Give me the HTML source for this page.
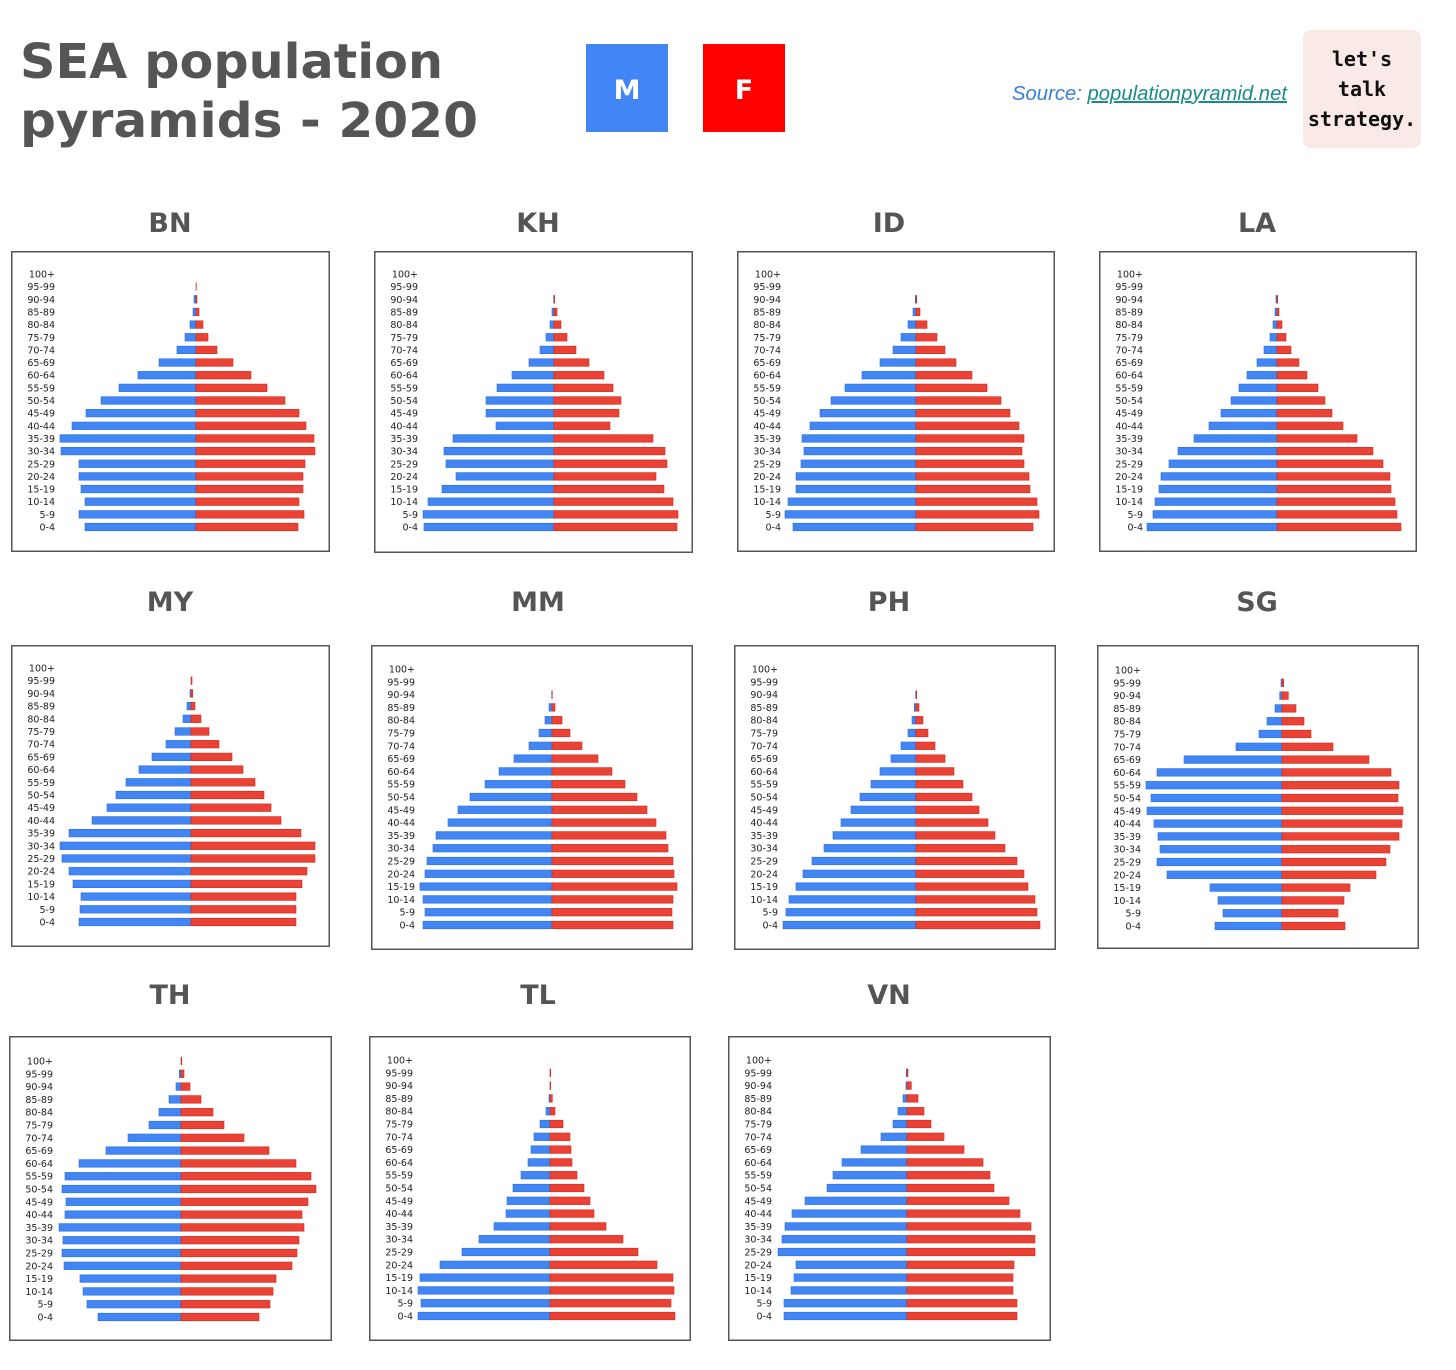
<!DOCTYPE html>
<html><head><meta charset="utf-8">
<style>
html,body{margin:0;padding:0;background:#fff;}
svg{display:block;}
</style></head>
<body>
<svg id="chart" width="1456" height="1370" viewBox="0 0 1456 1370" xmlns="http://www.w3.org/2000/svg">
  <g>
    <text x="20" y="78" font-family="DejaVu Sans, sans-serif" font-weight="bold" font-size="48" fill="#555" textLength="423" lengthAdjust="spacingAndGlyphs">SEA population</text>
    <text x="20" y="137" font-family="DejaVu Sans, sans-serif" font-weight="bold" font-size="48" fill="#555" textLength="458" lengthAdjust="spacingAndGlyphs">pyramids - 2020</text>
    <g>
      <rect x="586" y="44" width="82" height="88" fill="#4285f4"/>
      <text x="627" y="99" text-anchor="middle" font-family="DejaVu Sans, sans-serif" font-weight="bold" font-size="27" fill="#fff">M</text>
    </g>
    <g>
      <rect x="703" y="44" width="82" height="88" fill="#ff0000"/>
      <text x="744" y="99" text-anchor="middle" font-family="DejaVu Sans, sans-serif" font-weight="bold" font-size="27" fill="#fff">F</text>
    </g>
    <text x="1012" y="100" font-family="Liberation Sans, sans-serif" font-style="italic" font-size="20" fill="#3b7ddd" textLength="275" lengthAdjust="spacingAndGlyphs">Source: <tspan fill="#1a8a8a" text-decoration="underline">populationpyramid.net</tspan></text>
    <g>
      <rect x="1303" y="30" width="118" height="118" rx="8" fill="#f9e9e7"/>
      <text x="1362" y="66" text-anchor="middle" font-family="DejaVu Sans Mono, monospace" font-weight="bold" font-size="20" fill="#111">let's</text>
      <text x="1362" y="96" text-anchor="middle" font-family="DejaVu Sans Mono, monospace" font-weight="bold" font-size="20" fill="#111">talk</text>
      <text x="1362" y="126" text-anchor="middle" font-family="DejaVu Sans Mono, monospace" font-weight="bold" font-size="20" fill="#111">strategy.</text>
    </g>
  </g>
  <g id="panels"></g>
</svg>
<script>
// Age groups, top to bottom
const ageGroups = ["100+","95-99","90-94","85-89","80-84","75-79","70-74","65-69","60-64","55-59","50-54","45-49","40-44","35-39","30-34","25-29","20-24","15-19","10-14","5-9","0-4"];
const countries = ["BN","KH","ID","LA","MY","MM","PH","SG","TH","TL","VN"];
// Population share (%-like units), males and females, top (100+) to bottom (0-4)
const BN_M = [0,0,0.2,0.3,0.6,1.1,1.9,3.7,5.8,7.7,9.5,11,12.4,13.6,13.5,11.7,11.7,11.5,11.1,11.7,11.1];
const BN_F = [0,0.03,0.1,0.3,0.7,1.2,2.1,3.7,5.5,7.1,8.9,10.3,11,11.8,11.9,10.9,10.7,10.7,10.3,10.8,10.2];
const KH_M = [0,0,0.03,0.2,0.4,0.8,1.4,2.5,4.2,5.7,6.8,6.8,5.8,10.1,11,10.8,9.8,11.2,12.6,13.1,13];
const KH_F = [0,0,0.07,0.3,0.7,1.3,2.2,3.5,5,5.9,6.7,6.5,5.6,9.9,11.1,11.3,10.2,11,11.9,12.4,12.3];
const ID_M = [0,0,0.07,0.3,0.8,1.5,2.3,3.6,5.4,7.1,8.5,9.6,10.6,11.4,11.2,11.5,12,12,12.8,13.1,12.3];
const ID_F = [0,0,0.07,0.4,1.1,2.1,2.9,4,5.6,7.1,8.5,9.4,10.3,10.8,10.6,10.8,11.3,11.4,12.1,12.3,11.7];
const LA_M = [0,0,0.1,0.2,0.4,0.7,1.3,2,3,3.8,4.6,5.6,6.8,8.3,9.9,10.8,11.6,11.8,12.2,12.4,13];
const LA_F = [0,0,0.07,0.2,0.5,0.9,1.4,2.2,3,4.1,4.8,5.5,6.6,8,9.6,10.6,11.3,11.4,11.8,12,12.4];
const MY_M = [0,0,0.1,0.4,0.8,1.6,2.5,3.9,5.2,6.5,7.5,8.4,9.9,12.2,13.1,12.9,12.2,11.8,11,11.1,11.2];
const MY_F = [0,0.1,0.17,0.4,1,1.8,2.8,4.1,5.2,6.4,7.3,8,9,11,12.4,12.4,11.6,11.1,10.5,10.5,10.5];
const MM_M = [0,0,0.03,0.3,0.7,1.3,2.3,3.8,5.3,6.7,8.2,9.4,10.4,11.6,11.9,12.5,12.7,13.2,12.9,12.7,12.9];
const MM_F = [0,0,0.03,0.3,1,1.8,3,4.6,6,7.3,8.5,9.5,10.4,11.4,11.6,12.1,12.2,12.5,12.1,12,12.1];
const PH_M = [0,0,0.03,0.17,0.4,0.8,1.5,2.5,3.6,4.5,5.6,6.5,7.5,8.3,9.2,10.4,11.3,12,12.7,13,13.3];
const PH_F = [0,0,0.07,0.3,0.7,1.2,1.9,2.9,3.8,4.7,5.6,6.3,7.2,7.9,8.9,10.1,10.8,11.2,11.9,12.1,12.4];
const SG_M = [0,0.1,0.23,0.7,1.5,2.3,4.6,9.8,12.5,13.6,13.1,13.5,12.8,12.4,12.2,12.5,11.5,7.2,6.4,5.9,6.7];
const SG_F = [0,0.17,0.63,1.4,2.2,2.9,5.1,8.7,10.9,11.7,11.6,12.1,12,11.7,10.8,10.4,9.4,6.8,6.2,5.6,6.3];
const TH_M = [0,0.17,0.5,1.2,2.2,3.2,5.3,7.5,10.2,11.6,11.9,11.5,11.6,12.2,11.8,11.9,11.7,10.1,9.8,9.4,8.3];
const TH_F = [0.07,0.3,0.9,2,3.2,4.3,6.3,8.8,11.5,13,13.5,12.7,12.1,12.3,11.8,11.6,11.1,9.5,9.2,8.9,7.8];
const TL_M = [0,0,0,0.1,0.4,1,1.6,1.9,2.2,2.9,3.7,4.3,4.4,5.6,7.1,8.8,11,13,13.2,12.9,13.2];
const TL_F = [0,0.07,0.07,0.23,0.5,1.3,2,2.1,2.2,2.7,3.4,4,4.4,5.6,7.3,8.8,10.7,12.3,12.4,12.1,12.5];
const VN_M = [0,0.07,0.1,0.4,0.9,1.4,2.6,4.6,6.5,7.4,8,10.2,11.5,12.2,12.5,12.9,11.1,11.3,11.6,12.3,12.3];
const VN_F = [0,0.1,0.43,1.1,1.7,2.4,3.7,5.7,7.6,8.3,8.7,10.2,11.3,12.4,12.8,12.8,10.7,10.6,10.6,11,11];

const maleData = {BN:BN_M,KH:KH_M,ID:ID_M,LA:LA_M,MY:MY_M,MM:MM_M,PH:PH_M,SG:SG_M,TH:TH_M,TL:TL_M,VN:VN_M};
const femaleData = {BN:BN_F,KH:KH_F,ID:ID_F,LA:LA_F,MY:MY_F,MM:MM_F,PH:PH_F,SG:SG_F,TH:TH_F,TL:TL_F,VN:VN_F};

// layout (not data)
const layout = {
  BN:{bx:11,by:251,bw:319,bh:301,cx:185,ty:274,step:12.65,tx:170,tty:232},
  KH:{bx:374,by:251,bw:319,bh:302,cx:180,ty:274,step:12.65,tx:538,tty:232},
  ID:{bx:737,by:251,bw:318,bh:301,cx:179,ty:274,step:12.65,tx:889,tty:232},
  LA:{bx:1099,by:251,bw:318,bh:301,cx:178,ty:274,step:12.65,tx:1257,tty:232},
  MY:{bx:11,by:645,bw:319,bh:302,cx:180,ty:668,step:12.7,tx:170,tty:611},
  MM:{bx:371,by:645,bw:322,bh:305,cx:181,ty:669,step:12.8,tx:538,tty:611},
  PH:{bx:734,by:645,bw:322,bh:305,cx:182,ty:669,step:12.8,tx:889,tty:611},
  SG:{bx:1097,by:645,bw:322,bh:304,cx:185,ty:670,step:12.8,tx:1257,tty:611},
  TH:{bx:9,by:1036,bw:323,bh:305,cx:172,ty:1061,step:12.8,tx:170,tty:1004},
  TL:{bx:369,by:1036,bw:322,bh:305,cx:181,ty:1060,step:12.8,tx:538,tty:1004},
  VN:{bx:728,by:1036,bw:323,bh:305,cx:179,ty:1060,step:12.8,tx:889,tty:1004}
};
const UNIT = 10;
const NS = "http://www.w3.org/2000/svg";
const root = document.getElementById("panels");
function mk(tag, attrs){ const e=document.createElementNS(NS,tag); for(const k in attrs) e.setAttribute(k,attrs[k]); return e; }

countries.forEach(c => {
  const L = layout[c];
  const g = mk("g",{});
  
  
  const title = mk("text",{x:L.tx,y:L.tty,"text-anchor":"middle","font-family":"DejaVu Sans, sans-serif","font-weight":"bold","font-size":"27",fill:"#555"});
  
  
  title.textContent = c;
  g.appendChild(title);
  const box = mk("rect",{x:L.bx+0.75,y:L.by+0.75,width:L.bw-1.5,height:L.bh-1.5,fill:"#fff",stroke:"#555","stroke-width":"1.5"});
  
  
  g.appendChild(box);
  const cx = L.bx + L.cx;
  const xM = v => cx - v*UNIT;
  const xF = v => cx + v*UNIT;
  const yRow = i => L.ty + i*L.step;
  ageGroups.forEach((a,i) => {
    const y = yRow(i);
    const lab = mk("text",{x:L.bx+44,y:y+3.5,"text-anchor":"end","font-family":"DejaVu Sans, sans-serif","font-size":"9.5",fill:"#222"});
    
    
    lab.textContent = a;
    g.appendChild(lab);
    const m = maleData[c][i], f = femaleData[c][i];
    if (m > 0) {
      const r = mk("rect",{x:xM(m),y:y-3.8,width:cx-xM(m),height:7.6,fill:"#4285f4",stroke:"#2f6fd8","stroke-width":"0.6"});
      
      
      g.appendChild(r);
    }
    if (f > 0) {
      const r = mk("rect",{x:cx,y:y-3.8,width:xF(f)-cx,height:7.6,fill:"#ea4335",stroke:"#cc2a20","stroke-width":"0.6"});
      
      
      g.appendChild(r);
    }
  });
  root.appendChild(g);
});
</script>
</body></html>
